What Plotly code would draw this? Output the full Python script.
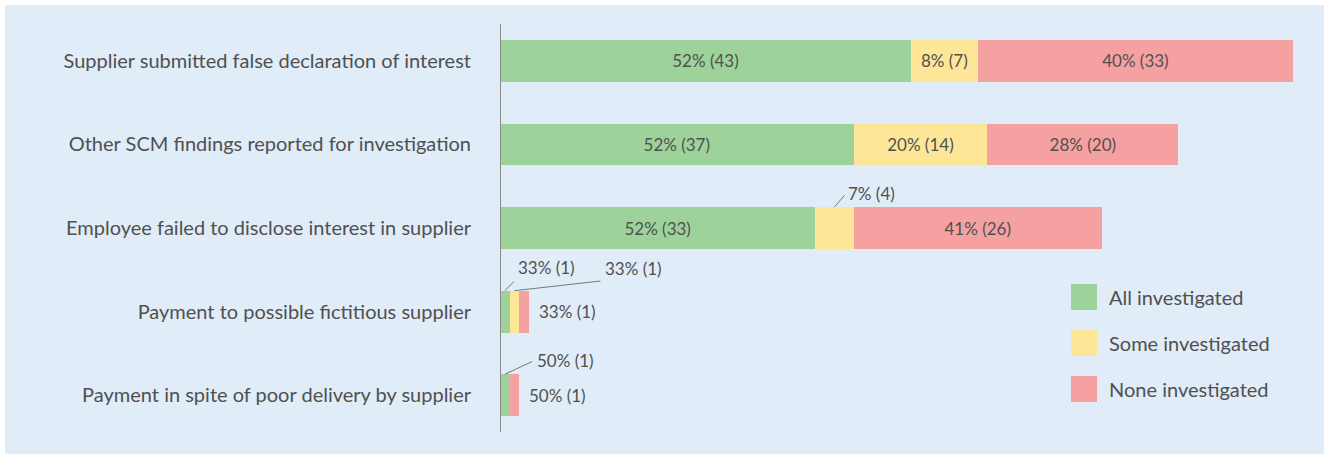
import plotly.graph_objects as go

categories = [
    "Supplier submitted false declaration of interest",
    "Other SCM findings reported for investigation",
    "Employee failed to disclose interest in supplier",
    "Payment to possible fictitious supplier",
    "Payment in spite of poor delivery by supplier",
]
series_names = ["All investigated", "Some investigated", "None investigated"]
all_counts = [43, 37, 33, 1, 1]
some_counts = [7, 14, 4, 1, 0]
none_counts = [33, 20, 26, 1, 1]
all_pct = [52, 52, 52, 33, 50]
some_pct = [8, 20, 7, 33, 0]
none_pct = [40, 28, 41, 33, 50]

colors = ["#9dd39a", "#fde698", "#f5a0a1"]
bg_color = "#e0ecf8"
text_color = "#505050"
font_family = "Lato, 'Open Sans', sans-serif"
label_size = 17

# page geometry (pixels)
W, H = 1324, 454
L, R, T, B = 500, 24, 19, 17
PW, PH = W - L - R, H - T - B
PX_PER_UNIT = 9.555


def paper_x(px):
    return (px - L) / PW


def paper_y(py):
    return (H - B - py) / PH


counts = [all_counts, some_counts, none_counts]
pcts = [all_pct, some_pct, none_pct]

# leader-line labels for narrow segments: (series, row) -> (ax, ay, yanchor)
leader_labels = {
    (1, 2): (12, -14, "middle"),
    (0, 3): (11, -11, "bottom"),
    (1, 3): (89, -10, "bottom"),
    (0, 4): (30, -14, "middle"),
}

fig = go.Figure()
annotations = []
for s, name in enumerate(series_names):
    texts = []
    for r in range(len(categories)):
        c = counts[s][r]
        label = f"{pcts[s][r]}% ({c})"
        start = sum(counts[k][r] for k in range(s))
        if c * PX_PER_UNIT >= 60:
            texts.append(label)
            continue
        texts.append("")
        if c == 0:
            continue
        if (s, r) in leader_labels:
            ax, ay, yanchor = leader_labels[(s, r)]
            annotations.append(dict(
                x=start + c / 2, y=r - 0.25, xref="x", yref="y",
                text=label, showarrow=True, arrowhead=0, arrowwidth=1,
                arrowcolor="#777777", ax=ax, ay=ay,
                xanchor="left", yanchor=yanchor, startstandoff=3,
                font=dict(size=label_size, color=text_color, family=font_family),
            ))
        else:
            annotations.append(dict(
                x=start + c, y=r, xref="x", yref="y",
                text=label, showarrow=False, xanchor="left", xshift=8,
                font=dict(size=label_size, color=text_color, family=font_family),
            ))
    fig.add_trace(go.Bar(
        y=categories,
        x=counts[s],
        orientation="h",
        name=name,
        marker=dict(color=colors[s], line=dict(width=0)),
        width=0.5,
        text=texts,
        textposition="inside",
        insidetextanchor="middle",
        textangle=0,
        insidetextfont=dict(size=label_size, color=text_color, family=font_family),
        cliponaxis=False,
        showlegend=False,
        hoverinfo="skip",
    ))

# legend drawn by hand to get the large swatches
shapes = [dict(
    type="rect", xref="paper", yref="paper", layer="below",
    x0=paper_x(5), x1=paper_x(W), y0=paper_y(H), y1=paper_y(5),
    fillcolor=bg_color, line=dict(width=0),
)]
shapes.append(dict(
    type="line", xref="x", yref="paper", x0=0, x1=0,
    y0=paper_y(432), y1=paper_y(24), line=dict(color="#8c8c8c", width=2),
))
for i, name in enumerate(series_names):
    cy = 297 + i * 46
    shapes.append(dict(
        type="rect", xref="paper", yref="paper",
        x0=paper_x(1071), x1=paper_x(1097), y0=paper_y(cy + 13), y1=paper_y(cy - 13),
        fillcolor=colors[i], line=dict(width=0),
    ))
    annotations.append(dict(
        x=paper_x(1107), y=paper_y(cy), xref="paper", yref="paper",
        text=name, showarrow=False, xanchor="left", yanchor="middle",
        font=dict(size=20, color=text_color, family=font_family),
    ))

fig.update_layout(
    width=W,
    height=H,
    barmode="stack",
    paper_bgcolor="white",
    plot_bgcolor="rgba(0,0,0,0)",
    margin=dict(l=L, r=R, t=T, b=B, pad=0),
    font=dict(family=font_family, color=text_color),
    xaxis=dict(range=[0, PW / PX_PER_UNIT], visible=False, fixedrange=True),
    yaxis=dict(
        categoryorder="array",
        categoryarray=categories,
        range=[len(categories) - 0.5, -0.5],
        showline=False,
        showgrid=False,
        zeroline=False,
        ticks="",
        ticklabelstandoff=28,
        tickfont=dict(size=20, color=text_color, family=font_family),
        fixedrange=True,
    ),
    shapes=shapes,
    annotations=annotations,
)

# drop the default page margin so the figure sits at the window origin
fig.write_html(
    "out.html",
    config={"displayModeBar": False},
    post_script="document.body.style.margin = '0px';",
)
